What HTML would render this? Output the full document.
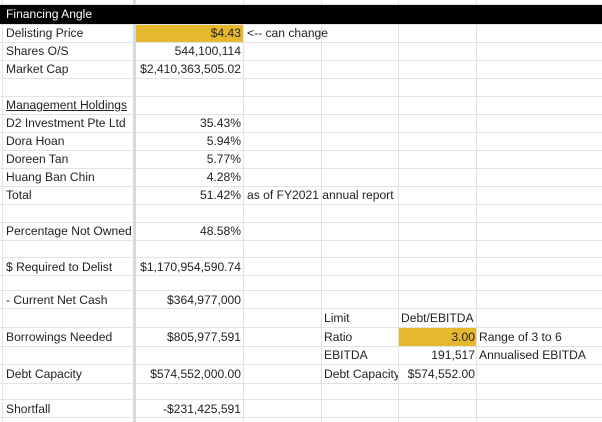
<!DOCTYPE html>
<html><head><style>
body{margin:0;width:602px;height:422px;background:#fff;position:relative;overflow:hidden;font-family:"Liberation Sans",Arial,sans-serif;font-size:12.1px;color:#222}
.h{position:absolute;left:0;width:602px;height:1px;background:#e2e2e2}
.v{position:absolute;top:0;height:422px;width:1px;background:#e2e2e2}
.t{position:absolute;white-space:nowrap;line-height:19px}
.r{text-align:right}
</style></head><body>
<div style="position:absolute;left:136px;top:24px;width:108px;height:18px;background:#e6b82e"></div>
<div style="position:absolute;left:399px;top:327px;width:78px;height:19px;background:#e6b82e"></div>

<div class="h" style="top:4px"></div><div class="h" style="top:24px"></div><div class="h" style="top:42px"></div><div class="h" style="top:60px"></div><div class="h" style="top:78px"></div><div class="h" style="top:96px"></div><div class="h" style="top:114px"></div><div class="h" style="top:132px"></div><div class="h" style="top:150px"></div><div class="h" style="top:168px"></div><div class="h" style="top:186px"></div><div class="h" style="top:204px"></div><div class="h" style="top:222px"></div><div class="h" style="top:240px"></div><div class="h" style="top:257px"></div><div class="h" style="top:275px"></div><div class="h" style="top:290px"></div><div class="h" style="top:308px"></div><div class="h" style="top:327px"></div><div class="h" style="top:346px"></div><div class="h" style="top:364px"></div><div class="h" style="top:383px"></div><div class="h" style="top:399px"></div><div class="h" style="top:417px"></div>

<div class="v" style="left:2px"></div>
<div class="v" style="left:133px;width:3px;background:#d5d9e0"></div>
<div class="v" style="left:243px"></div><div class="v" style="left:321px"></div><div class="v" style="left:398px"></div><div class="v" style="left:476px"></div>
<div style="position:absolute;left:0;top:5px;width:602px;height:19px;background:#000"></div>

<div class="t" style="left:6px;top:5px;color:#fff">Financing Angle</div>
<div class="t" style="left:6px;top:24px">Delisting Price</div>
<div class="t" style="left:6px;top:42px">Shares O/S</div>
<div class="t" style="left:6px;top:60px">Market Cap</div>
<div class="t" style="left:6px;top:96px;text-decoration:underline">Management Holdings</div>
<div class="t" style="left:6px;top:114px">D2 Investment Pte Ltd</div>
<div class="t" style="left:6px;top:132px">Dora Hoan</div>
<div class="t" style="left:6px;top:150px">Doreen Tan</div>
<div class="t" style="left:6px;top:168px">Huang Ban Chin</div>
<div class="t" style="left:6px;top:186px">Total</div>
<div class="t" style="left:6px;top:222px">Percentage Not Owned</div>
<div class="t" style="left:6px;top:258px">$ Required to Delist</div>
<div class="t" style="left:6px;top:291px">- Current Net Cash</div>
<div class="t" style="left:6px;top:328px">Borrowings Needed</div>
<div class="t" style="left:6px;top:365px">Debt Capacity</div>
<div class="t" style="left:6px;top:400px">Shortfall</div>

<div class="t r" style="right:361px;top:24px">$4.43</div>
<div class="t r" style="right:361px;top:42px">544,100,114</div>
<div class="t r" style="right:361px;top:60px">$2,410,363,505.02</div>
<div class="t r" style="right:361px;top:114px">35.43%</div>
<div class="t r" style="right:361px;top:132px">5.94%</div>
<div class="t r" style="right:361px;top:150px">5.77%</div>
<div class="t r" style="right:361px;top:168px">4.28%</div>
<div class="t r" style="right:361px;top:186px">51.42%</div>
<div class="t r" style="right:361px;top:222px">48.58%</div>
<div class="t r" style="right:361px;top:258px">$1,170,954,590.74</div>
<div class="t r" style="right:361px;top:291px">$364,977,000</div>
<div class="t r" style="right:361px;top:328px">$805,977,591</div>
<div class="t r" style="right:361px;top:365px">$574,552,000.00</div>
<div class="t r" style="right:361px;top:400px">-$231,425,591</div>

<div class="t" style="left:247px;top:24px">&lt;-- can change</div>
<div class="t" style="left:247px;top:186px">as of FY2021 annual report</div>

<div class="t" style="left:324px;top:309px">Limit</div>
<div class="t" style="left:324px;top:328px">Ratio</div>
<div class="t" style="left:324px;top:346px">EBITDA</div>
<div class="t" style="left:324px;top:365px;width:74px;overflow:hidden">Debt Capacity</div>
<div class="t" style="left:401px;top:309px">Debt/EBITDA</div>
<div class="t r" style="right:127px;top:328px">3.00</div>
<div class="t r" style="right:127px;top:346px">191,517</div>
<div class="t r" style="right:127px;top:365px">$574,552.00</div>
<div class="t" style="left:479px;top:328px">Range of 3 to 6</div>
<div class="t" style="left:479px;top:346px">Annualised EBITDA</div>
</body></html>
